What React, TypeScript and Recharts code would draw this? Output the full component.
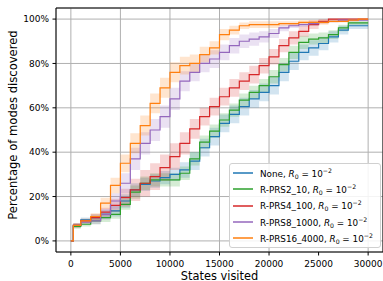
import {
  ComposedChart,
  Area,
  Line,
  XAxis,
  YAxis,
  CartesianGrid,
  ReferenceArea,
} from 'recharts';

// ─── Data ────────────────────────────────────────────────────────────────────

const STATES = [
  0, 250, 1000, 2000, 3000, 4000, 5000, 6000, 7000, 8000, 9000, 10000, 11000,
  12000, 13000, 14000, 15000, 16000, 17000, 18000, 19000, 20000, 21000, 22000,
  23000, 24000, 25000, 26000, 27000, 28000, 29000, 30000,
];

const NONE = [
  0, 7, 9.5, 10.5, 12, 13.5, 18, 23, 25.5, 27, 28.5, 30, 32, 36, 42, 47, 53,
  57, 60.5, 64, 67, 70, 76, 81, 85, 87, 89, 92, 95, 97, 97, 97,
];
const NONE_SPREAD = [
  0, 1, 1, 1.5, 2, 2.5, 3, 3, 3, 3, 3, 3, 3.5, 4, 4, 4, 4, 4, 4, 4, 4, 4, 4,
  4, 3.5, 3.5, 3, 2.5, 2, 1.5, 1.5, 1.5,
];

const PRS2 = [
  0, 6.5, 7.5, 9, 10.5, 12, 16.5, 22, 26, 27.5, 27.5, 27.5, 30.5, 37, 44.5,
  49.5, 54.5, 59, 63.5, 67, 70, 74, 79.5, 85, 89.5, 91, 91.5, 93, 96, 98.3,
  98.3, 98.3,
];
const PRS2_SPREAD = [
  0, 1, 1, 1.5, 2, 2, 2.5, 3, 3, 3, 3, 3, 3, 3, 3, 3, 3, 3, 3, 3, 3, 3, 3, 3,
  3, 2.5, 2.5, 2, 1.5, 1, 1, 1,
];

const PRS4 = [
  0, 7, 9, 10.5, 13, 16, 19.5, 23, 26, 29, 33, 38, 44, 50.5, 56, 60.5, 65, 69,
  72, 75, 79, 83, 88, 91.5, 94.5, 97.5, 99, 100, 100, 100, 100, 100,
];
const PRS4_SPREAD = [
  0, 1, 1, 1.5, 2, 3, 4, 5, 6, 6, 6, 6, 5, 4.5, 4, 4, 4, 4, 4, 4, 3.5, 3.5, 3,
  3, 2.5, 2, 1, 0.5, 0.5, 0.5, 0.5, 0.5,
];

const PRS8 = [
  0, 7, 8.5, 9, 12, 18, 26, 37, 44, 50, 56, 64, 72, 76, 80, 82, 85, 88, 90, 91,
  92, 93.5, 96, 97, 97.5, 98, 98.5, 99, 99.5, 99.5, 99.5, 99.5,
];
const PRS8_SPREAD = [
  0, 1, 1, 1.5, 2.5, 3.5, 4.5, 5, 5, 5, 5, 5, 4.5, 4, 4, 4, 3.5, 3.5, 3, 3,
  2.5, 2, 1.5, 1, 1, 1, 0.5, 0.5, 0.5, 0.5, 0.5, 0.5,
];

const PRS16 = [
  0, 7, 9, 11, 17, 25, 35, 44, 52, 62, 69, 76, 79, 80, 84, 87, 93, 95, 97, 97.5,
  97.5, 97.5, 98, 98, 98.5, 98.5, 98.5, 99, 99, 99.5, 100, 100,
];
const PRS16_SPREAD = [
  0, 1, 1, 1.5, 2.5, 3.5, 4, 4.5, 4.5, 4.5, 4.5, 4.5, 4, 4, 3.5, 3, 2.5, 2,
  1.5, 1.5, 1.5, 1.5, 1, 1, 1, 1, 1, 0.5, 0.5, 0.5, 0, 0,
];

const X_TICKS = [0, 5000, 10000, 15000, 20000, 25000, 30000];
const Y_TICKS = [0, 20, 40, 60, 80, 100];

const SERIES = [
  { key: 'none', name: 'None', color: '#1f77b4', values: NONE, spread: NONE_SPREAD },
  { key: 'prs2', name: 'R-PRS2_10', color: '#2ca02c', values: PRS2, spread: PRS2_SPREAD },
  { key: 'prs4', name: 'R-PRS4_100', color: '#d62728', values: PRS4, spread: PRS4_SPREAD },
  { key: 'prs8', name: 'R-PRS8_1000', color: '#9467bd', values: PRS8, spread: PRS8_SPREAD },
  { key: 'prs16', name: 'R-PRS16_4000', color: '#ff7f0e', values: PRS16, spread: PRS16_SPREAD },
];

const rows = STATES.map((x, i) => {
  const row: Record<string, number | number[]> = { x };
  SERIES.forEach((s) => {
    const v = s.values[i];
    row[s.key] = v;
    row[s.key + 'Band'] = [v - s.spread[i], Math.min(v + s.spread[i], 100)];
  });
  return row;
});

const FONT = '"DejaVu Sans", sans-serif';

// ─── Y label (matplotlib centres it a bit above the plot middle) ────────────

function YLabel() {
  return (
    <text
      x={13}
      y={125}
      transform="rotate(-90 13 125)"
      textAnchor="middle"
      dominantBaseline="central"
      fontFamily={FONT}
      fontSize={11.6}
      fill="#000"
    >
      Percentage of modes discovered
    </text>
  );
}

// ─── Legend (overlay, so it doesn't eat plot height) ─────────────────────────

function LegendBox() {
  return (
    <div
      style={{
        position: 'absolute',
        left: 229,
        top: 163,
        width: 152,
        boxSizing: 'border-box',
        border: '1px solid #d0d0d0',
        borderRadius: 3,
        background: 'rgba(255,255,255,0.85)',
        padding: '1px 0 1px 3px',
        fontFamily: FONT,
        fontSize: 8.8,
        color: '#000',
      }}
    >
      {SERIES.map((s) => (
        <div
          key={s.key}
          style={{ display: 'flex', alignItems: 'center', height: 16.3, whiteSpace: 'nowrap' }}
        >
          <svg width={20} height={4} style={{ marginRight: 7, flex: 'none' }}>
            <line x1={0} x2={20} y1={2} y2={2} stroke={s.color} strokeWidth={1.5} />
          </svg>
          <span>
            {s.name}, <i>R</i>
            <sub style={{ fontSize: 6.2, verticalAlign: -2 }}>0</sub> = 10
            <sup style={{ fontSize: 6.2, verticalAlign: 4 }}>−2</sup>
          </span>
        </div>
      ))}
    </div>
  );
}

// ─── Chart ───────────────────────────────────────────────────────────────────

export default function App() {
  return (
    <div style={{ position: 'absolute', left: 0, top: 0, width: 383, height: 281, background: '#fff' }}>
      <ComposedChart
        width={383}
        height={281}
        data={rows}
        margin={{ top: 8, right: 0, bottom: 0, left: 0 }}
      >
        <CartesianGrid stroke="#b0b0b0" strokeWidth={1} />
        <XAxis
          dataKey="x"
          type="number"
          domain={[-1500, 31500]}
          ticks={X_TICKS}
          height={29}
          tickSize={3.5}
          tickMargin={5.5}
          axisLine={false}
          tickLine={{ stroke: '#000' }}
          tick={{ fontSize: 9, fill: '#000', fontFamily: FONT }}
          label={{
            value: 'States visited',
            position: 'insideBottom',
            offset: 1.5,
            style: { fontSize: 11.4, fill: '#000', fontFamily: FONT },
          }}
        />
        <YAxis
          type="number"
          domain={[-5, 105]}
          ticks={Y_TICKS}
          width={56}
          tickSize={3.5}
          tickMargin={3.5}
          axisLine={false}
          tickLine={{ stroke: '#000' }}
          tickFormatter={(v: number) => `${v}%`}
          tick={{ fontSize: 9, fill: '#000', fontFamily: FONT }}
          label={<YLabel />}
        />
        {SERIES.map((s) => [
          <Area
            key={s.key + 'Band'}
            dataKey={s.key + 'Band'}
            type="stepAfter"
            stroke="none"
            fill={s.color}
            fillOpacity={0.2}
            legendType="none"
            dot={false}
            activeDot={false}
            isAnimationActive={false}
          />,
          <Line
            key={s.key}
            dataKey={s.key}
            name={s.name}
            type="stepAfter"
            stroke={s.color}
            strokeWidth={1.2}
            dot={false}
            activeDot={false}
            isAnimationActive={false}
          />,
        ])}
        <ReferenceArea
          x1={-1500}
          x2={31500}
          y1={-5}
          y2={105}
          fill="none"
          stroke="#000"
          strokeWidth={1}
        />
      </ComposedChart>
      <LegendBox />
    </div>
  );
}
